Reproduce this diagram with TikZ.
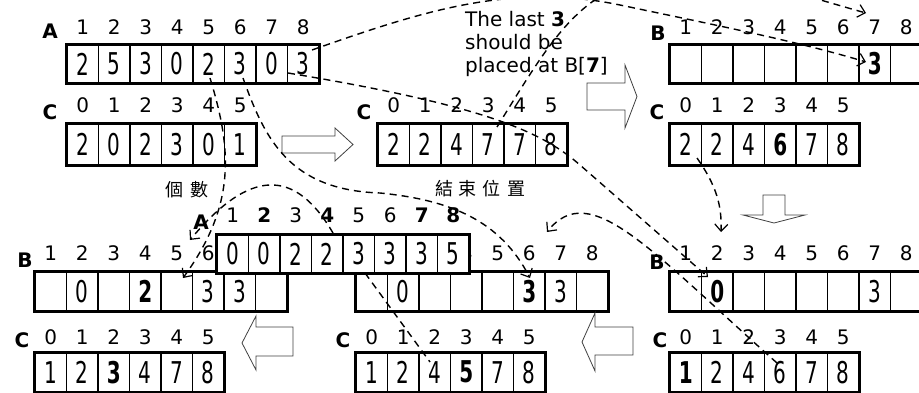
\documentclass[tikz,border=0pt]{standalone}
\usepackage{fontspec}
\setmainfont{DejaVu Sans}
\newfontfamily\cjk{Noto Sans CJK TC}
\usepackage{graphicx}
\usetikzlibrary{arrows.meta}

\tikzset{
  cellbox/.style={draw=black, line width=1.3pt, minimum width=31.5pt, inner sep=0pt, fill=white, font=\fontsize{20}{24}\selectfont},
  outer/.style={draw=black, line width=3pt},
  idx/.style={font=\fontsize{20}{24}\selectfont, inner sep=0pt},
  lbl/.style={font=\fontsize{20}{24}\selectfont\bfseries, inner sep=0pt},
  conn/.style={line width=1.4pt, dash pattern=on 7pt off 5pt},
  tip/.style={-{Straight Barb[length=7pt,width=13pt,line width=1.2pt]}},
  hollow/.style={draw=black!75, line width=0.8pt, fill=white, line join=miter},
  note/.style={font=\fontsize{20}{23}\selectfont, inner sep=0pt, anchor=base west},
  cjklbl/.style={font=\cjk\fontsize{18}{22}\selectfont, inner sep=0pt},
}

\newcommand{\cn}[1]{\scalebox{1}[1.5]{#1}}

% \cellrow{name}{left}{top}{height}{n}{entries}
\newcommand{\cellrow}[6]{%
  \foreach \cv [count=\ii] in {#6} {
    \node[cellbox, minimum height=#4pt] (#1-\ii) at ({#2+31.5*(\ii-0.5)}, {#3+#4/2}) {\cn{\cv}};
  }
  \draw[outer] (#1-1.north west) rectangle (#1-#5.south east);
}
% \idxrow{name}{left}{y}{offset}{labels}
\newcommand{\idxrow}[5]{%
  \foreach \lab [count=\ii] in {#5} {
    \node[idx] (#1-\ii) at ({#2+31.5*(#4+\ii-0.5)}, #3) {\lab};
  }
}

\begin{document}
\begin{tikzpicture}[x=1pt, y=-1pt]
\useasboundingbox (0,0) rectangle (919,393);
\clip (0,0) rectangle (919,393);

% ---------- panel 1 ----------
\cellrow{a1}{67}{45}{38}{8}{2,5,3,0,2,3,0,3}
\idxrow{ia1}{67}{27}{0}{1,2,3,4,5,6,7,8}
\node[lbl] (la1) at (50,31) {A};
\cellrow{c1}{67}{124}{41}{6}{2,0,2,3,0,1}
\idxrow{ic1}{67}{105}{0}{0,1,2,3,4,5}
\node[lbl] (lc1) at (50,112) {C};

% ---------- panel 2 ----------
\cellrow{c2}{378}{124}{41}{6}{2,2,4,7,7,8}
\idxrow{ic2}{378}{105}{0}{0,1,2,3,4,5}
\node[lbl] (lc2) at (364,112) {C};

% ---------- panel 3 ----------
\cellrow{b3}{670}{45}{38}{8}{{},{},{},{},{},{},\textbf{3},{}}
\idxrow{ib3}{670}{27}{0}{1,2,3,4,5,6,7,8}
\node[lbl] (lb3) at (658,33) {B};
\cellrow{c3}{670}{124}{41}{6}{2,2,4,\textbf{6},7,8}
\idxrow{ic3}{670}{105}{0}{0,1,2,3,4,5}
\node[lbl] (lc3) at (657,112) {C};

% ---------- panel 4 ----------
\cellrow{b4}{670}{272}{39}{8}{{},\textbf{0},{},{},{},{},3,{}}
\idxrow{ib4}{670}{253}{0}{1,2,3,4,5,6,7,8}
\node[lbl] (lb4) at (657,262) {B};
\cellrow{c4}{670}{353}{38.5}{6}{\textbf{1},2,4,6,7,8}
\idxrow{ic4}{670}{337}{0}{0,1,2,3,4,5}
\node[lbl] (lc4) at (660,340) {C};

% ---------- panel 5 ----------
\cellrow{b5}{356}{272}{39}{8}{{},0,{},{},{},\textbf{3},3,{}}
\idxrow{ib5}{356}{253}{3}{4,5,6,7,8}
\cellrow{c5}{356}{353}{38.5}{6}{1,2,4,\textbf{5},7,8}
\idxrow{ic5}{356}{337}{0}{0,1,2,3,4,5}
\node[lbl] (lc5) at (343,340) {C};

% ---------- panel 6 ----------
\cellrow{b6}{35}{272}{39}{8}{{},0,{},\textbf{2},{},3,3,{}}
\idxrow{ib6}{35}{253}{0}{1,2,3,4,5,6}
\node[lbl] (lb6) at (25,260) {B};
\cellrow{c6}{35}{353}{38.5}{6}{1,2,\textbf{3},4,7,8}
\idxrow{ic6}{35}{337}{0}{0,1,2,3,4,5}
\node[lbl] (lc6) at (22,340) {C};

% ---------- overlaid A ----------
\cellrow{a7}{217}{235}{38}{8}{0,0,2,2,3,3,3,5}
\idxrow{ia7}{217}{215}{0}{1,\textbf{2},3,\textbf{4},5,6,\textbf{7},\textbf{8}}
\node[lbl] (la7) at (201,222) {A};

% ---------- texts ----------
\node[cjklbl] (cnt) at (187,190) {個\hspace{7pt}數};
\node[cjklbl] (endpos) at (480,189) {結\hspace{6pt}束\hspace{6pt}位\hspace{6pt}置};
\node[note] (n1) at (465,27) {The last \textbf{3}};
\node[note] (n2) at (465,50) {should be};
\node[note] (n3) at (465,73) {placed at B[\textbf{7}]};

% ---------- hollow arrows ----------
\draw[hollow] (282,136) -- (335,136) -- (335,128) -- (353,144.5) -- (335,161) -- (335,153) -- (282,153) -- cycle;
\draw[hollow] (587,83) -- (625,83) -- (625,65) -- (637,96.5) -- (625,128) -- (625,110) -- (587,110) -- cycle;
\draw[hollow] (763,195) -- (785,195) -- (785,215) -- (805,215) -- (774,223) -- (743,215) -- (763,215) -- cycle;
\draw[hollow] (242,343) -- (256,316) -- (256,327) -- (293,327) -- (293,356) -- (256,356) -- (256,370) -- cycle;
\draw[hollow] (582,342) -- (595,313) -- (595,327) -- (633,327) -- (633,355) -- (595,355) -- (595,371) -- cycle;

% ---------- dashed connectors ----------
\coordinate (s1) at (312,50);   \coordinate (e1) at (866,62);
\coordinate (s2) at (497,127);  \coordinate (e2) at (866,13);
\coordinate (s3) at (243,78);   \coordinate (e3) at (530,278);
\coordinate (s4) at (697,158);  \coordinate (e4) at (721,232);
\coordinate (s5) at (288,73);   \coordinate (e5) at (708,277);
\coordinate (sx) at (210,78);   \coordinate (ex) at (183,278);
\coordinate (sy) at (333,233);  \coordinate (ey) at (190,240);
\coordinate (s6) at (777,363);  \coordinate (e6) at (547,232);
\coordinate (s7) at (365,273);  \coordinate (e7) at (430,362);

\draw[conn,tip] (s1) .. controls (420,12) and (510,-18) .. (620,5) .. controls (720,26) and (800,42) .. (e1);
\draw[conn,tip] (s2) .. controls (545,50) and (575,-5) .. (640,-20) .. controls (720,-35) and (800,-5) .. (e2);
\draw[conn,tip] (s3) .. controls (265,140) and (290,190) .. (380,193) .. controls (450,200) and (500,220) .. (e3);
\draw[conn,tip] (s4) .. controls (716,185) and (722,205) .. (e4);
\draw[conn,tip] (s5) .. controls (480,105) and (540,130) .. (580,165) -- (e5);
\draw[conn,tip] (sx) .. controls (232,150) and (236,205) .. (ex);
\draw[conn,tip] (sy) .. controls (295,168) and (250,168) .. (ey);
\draw[conn,tip] (s6) .. controls (650,250) and (590,178) .. (e6);
\draw[conn] (s7) -- (e7);
\end{tikzpicture}
\end{document}
